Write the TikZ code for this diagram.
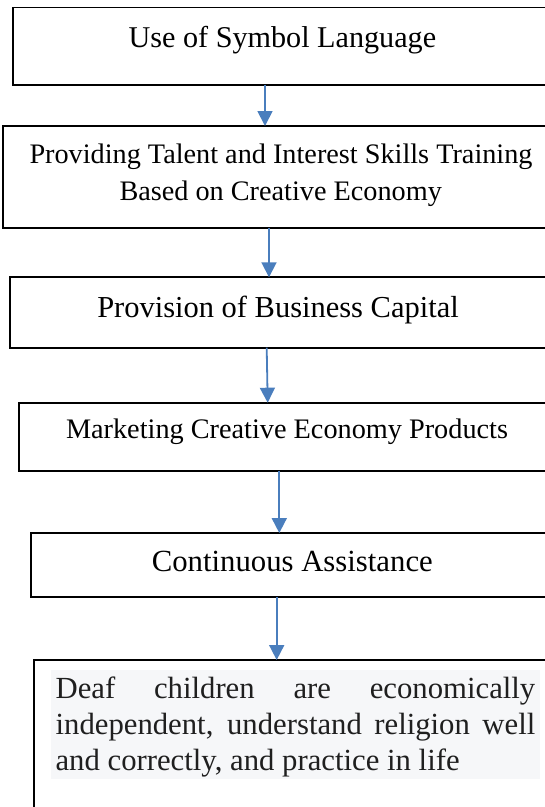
\documentclass[tikz,border=0pt]{standalone}
\usepackage{fontspec}
\setmainfont{Liberation Serif}
\usetikzlibrary{arrows.meta}
\definecolor{arrowblue}{RGB}{74,126,189}
\definecolor{bggray}{RGB}{246,247,249}
\newlength\mw
\newcommand\fitsize[3]{\settowidth\mw{\fontsize{10pt}{12pt}\selectfont #2}\pgfmathsetmacro#1{10*#3/\mw}}
\begin{document}%
\fitsize\fsA{Use of Symbol Language}{307.6}%
\fitsize\fsB{Providing Talent and Interest Skills Training}{503}%
\fitsize\fsC{Provision of Business Capital}{361.5}%
\fitsize\fsD{Marketing Creative Economy Products}{442}%
\fitsize\fsE{Continuous Assistance}{281}%
\fitsize\fsF{and correctly, and practice in life}{404}%
\fitsize\fsG{independent, understand religion well}{476}%
\pgfmathsetmacro\fsH{min(\fsF,\fsG)}%
\begin{tikzpicture}[x=1pt,y=-1pt,
  box/.style={draw=black, line width=1.8pt, rectangle, inner sep=0pt, outer sep=0pt, anchor=north west},
  txt/.style={inner sep=0pt, outer sep=0pt, anchor=base, text=black},
  flow/.style={draw=arrowblue, line width=1.8pt, -{Triangle[length=15pt,width=15pt]}}]
\useasboundingbox (0,0) rectangle (545,807);
% boxes
\node[box, minimum width=547.3pt, minimum height=77.2pt] (b1) at (12.7,7.5) {};
\node[box, minimum width=556.7pt, minimum height=101.7pt] (b2) at (3.3,126) {};
\node[box, minimum width=550pt, minimum height=70.4pt] (b3) at (10,277.3) {};
\node[box, minimum width=541pt, minimum height=68pt] (b4) at (19,402.7) {};
\node[box, minimum width=529pt, minimum height=64pt] (b5) at (31,533) {};
\node[box, minimum width=526.3pt, minimum height=180pt] (b6) at (33.7,660) {};
\node[fill=bggray, inner sep=0pt, anchor=north west, minimum width=489.4pt, minimum height=109pt] (bg) at (50.4,670) {};
% texts
\node[txt, font=\fontsize{\fsA}{\fsA}\selectfont] (t1) at (282.4,47) {Use of Symbol Language};
\node[txt, font=\fontsize{\fsB}{\fsB}\selectfont] (t2a) at (281,163) {Providing Talent and Interest Skills Training};
\node[txt, font=\fontsize{\fsB}{\fsB}\selectfont] (t2b) at (280.7,200) {Based on Creative Economy};
\node[txt, font=\fontsize{\fsC}{\fsC}\selectfont] (t3) at (278,317) {Provision of Business Capital};
\node[txt, font=\fontsize{\fsD}{\fsD}\selectfont] (t4) at (287,438) {Marketing Creative Economy Products};
\node[txt, font=\fontsize{\fsE}{\fsE}\selectfont] (t5) at (292.3,571.7) {Continuous Assistance};
\node[txt, anchor=base west, font=\fontsize{\fsH}{\fsH}\selectfont, text=black!88] (t6a) at (55.6,698.5) {\makebox[479.7pt][s]{Deaf children are economically}};
\node[txt, anchor=base west, font=\fontsize{\fsH}{\fsH}\selectfont, text=black!88] (t6b) at (55.6,734.5) {\makebox[479.7pt][s]{independent, understand religion well}};
\node[txt, anchor=base west, font=\fontsize{\fsH}{\fsH}\selectfont, text=black!88] (t6c) at (55.6,770.5) {and correctly, and practice in life};
% arrow columns
\coordinate (x1) at (265,0);
\coordinate (x2) at (269,0);
\coordinate (x3a) at (266.7,0);
\coordinate (x3b) at (267.7,0);
\coordinate (x4) at (279.3,0);
\coordinate (x5) at (276.7,0);
\draw[flow] (x1 |- b1.south) -- (x1 |- b2.north);
\draw[flow] (x2 |- b2.south) -- (x2 |- b3.north);
\draw[flow] (x3a |- b3.south) -- (x3b |- b4.north);
\draw[flow] (x4 |- b4.south) -- (x4 |- b5.north);
\draw[flow] (x5 |- b5.south) -- (x5 |- b6.north);
\end{tikzpicture}%
\end{document}
